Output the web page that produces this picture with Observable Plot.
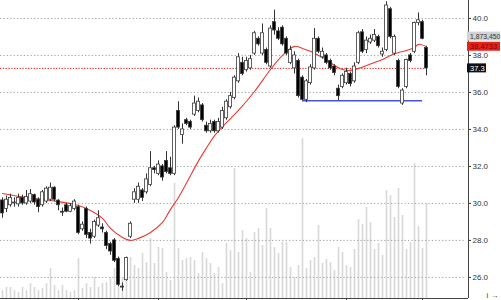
<!DOCTYPE html>
<html><head><meta charset="utf-8">
<script src="https://cdn.jsdelivr.net/npm/d3@7"></script>
<script src="https://cdn.jsdelivr.net/npm/@observablehq/plot@0.6"></script>
<style>
html,body{margin:0;padding:0;background:#fff;}
#chart{position:relative;width:501px;height:300px;overflow:hidden;}
#chart svg{position:absolute;left:0;top:0;}
</style></head><body><div id="chart"></div>
<script>
// ---- data ----
const opens  = [30.16,29.7,29.9,30.0,29.95,30.3,30.0,30.1,30.45,30.2,29.9,30.1,30.2,30.85,30.15,29.55,29.9,29.55,29.7,29.8,28.6,29.7,28.4,28.2,28.8,28.7,28.4,27.8,28.0,27.0,25.5,25.85,28.2,30.2,30.2,30.7,30.6,31.0,31.9,31.6,32.0,32.3,31.9,31.6,35.0,33.7,34.5,34.4,34.8,35.0,35.3,34.2,33.9,34.4,33.9,34.1,34.6,35.2,35.7,36.6,37.6,37.2,37.3,38.1,38.9,38.1,38.3,37.4,39.8,39.3,39.5,38.9,37.6,37.3,37.7,36.8,35.6,36.5,37.3,38.9,37.9,38.0,37.7,37.4,36.2,36.3,36.5,37.0,36.6,37.6,39.25,38.3,38.7,38.8,39.0,38.05,38.3,40.5,38.1,37.7,35.4,36.3,38.0,38.2,39.75,39.8,38.4];
const highs  = [30.3,30.4,30.5,30.3,30.5,30.45,30.7,30.75,30.5,30.3,30.7,30.9,31.1,30.9,30.2,29.75,30.0,30.0,30.2,29.9,29.0,29.8,28.6,29.1,29.6,28.9,28.5,27.9,28.1,27.1,25.7,27.1,29.0,30.8,31.1,30.8,31.6,32.8,32.0,32.3,32.1,32.8,32.5,34.2,35.5,34.3,34.6,34.5,35.8,35.7,35.4,34.4,34.5,34.5,34.6,35.2,35.6,36.0,36.9,38.1,37.9,37.9,38.0,39.3,39.0,39.7,38.4,39.6,40.45,39.5,39.6,39.0,38.5,38.2,37.8,36.9,36.7,37.5,39.45,39.0,38.4,38.1,37.8,37.5,36.4,37.0,37.3,37.1,37.6,39.3,39.4,39.0,39.1,39.4,39.1,38.4,40.9,40.6,39.1,37.8,36.2,37.8,38.1,39.8,40.3,39.9,38.5];
const lows   = [29.2,29.5,29.8,29.8,29.8,29.9,29.9,30.0,29.9,29.5,29.8,30.0,30.1,30.1,29.6,29.3,29.5,29.5,29.6,28.3,28.5,28.1,27.8,28.1,28.7,28.4,27.5,27.2,26.8,25.5,25.25,25.8,28.1,30.0,30.0,30.1,30.5,30.9,31.6,31.5,31.2,31.6,31.5,31.5,34.0,33.2,34.2,34.0,34.7,34.9,34.4,33.8,33.8,33.8,33.8,34.0,34.5,35.1,35.6,36.5,36.9,37.1,37.2,38.0,38.5,38.0,37.5,37.3,39.1,38.8,38.5,38.0,37.5,37.0,35.7,35.55,35.45,36.4,37.2,38.1,37.8,37.5,37.2,36.9,35.55,36.2,36.4,36.3,36.5,37.5,38.1,38.1,38.6,38.7,38.4,37.9,38.2,38.9,38.0,36.2,35.3,36.2,37.6,38.1,39.6,38.85,36.9];
const closes = [29.46,30.2,30.3,30.05,30.3,30.0,30.35,30.5,30.05,29.8,30.6,30.8,30.85,30.2,29.9,29.5,29.55,29.85,30.1,28.4,28.85,28.3,28.1,29.0,29.2,28.6,27.7,27.4,26.9,25.6,25.45,27.05,28.9,30.6,30.9,30.3,31.3,31.9,31.8,32.1,31.4,31.7,31.6,34.1,34.1,34.0,34.3,34.1,35.4,35.5,34.5,33.9,34.3,33.9,34.4,35.0,35.5,35.8,36.8,37.9,37.0,37.7,37.8,39.2,38.6,39.2,37.6,39.45,39.35,38.9,38.6,38.1,38.3,38.0,35.8,35.6,36.6,37.35,38.9,38.2,38.2,37.6,37.3,37.05,35.8,36.9,37.1,36.45,37.4,39.2,38.2,38.8,38.9,39.1,38.5,38.2,40.7,39.0,39.0,36.3,36.1,37.75,37.7,39.75,39.9,38.9,37.3];
// volume, thousands of shares
const volumes = [158,217,217,158,118,217,158,296,217,158,197,296,592,256,158,256,158,118,158,789,197,296,217,414,217,296,316,414,592,296,394,552,809,651,592,887,710,1183,690,1006,986,513,355,2268,986,749,789,809,749,493,907,789,690,493,611,296,1085,947,2564,907,1341,1183,513,1302,1380,1045,1775,1380,1006,887,1104,1104,611,414,651,3155,592,749,809,1440,690,769,710,552,1006,907,651,611,966,1558,1459,1795,1499,966,1085,848,2130,2031,1597,2169,1637,966,1104,2662,1420,986,1873];
// moving average, read at these bar positions
const maIndex  = [0,6,12,19,22,25,27,30,32,34,37,40,42,44,46,49,51,53,57,59,63,67,70,73,75,77,79,81,83,85,87,89,91,93,95,97,99,101,103,104,106];
const maValues = [30.54,30.32,30.16,29.89,29.62,29.19,28.65,28.16,28.0,28.11,28.43,28.97,29.68,30.32,31.1,32.3,33.0,33.65,34.59,35.03,36.05,37.24,38.0,38.49,38.38,38.22,38.0,37.78,37.46,37.24,37.19,37.30,37.46,37.62,37.78,38.0,38.16,38.27,38.43,38.6,38.47];
const priceTicks = [26,28,30,32,34,36,38,40];
const monthTicks = [19,39,61,86,105];
const supportLevel = 35.55, supportFrom = 75, supportTo = 105;
const volumeLabel = "1,873,450";
const maLabel = "38.4733";
const closeLabel = "37.3";

// ---- chart ----
const N = closes.length;
const candles = closes.map((c,i)=>({i, o:opens[i], h:highs[i], l:lows[i], c}));
const ma = maIndex.map((i,k)=>({i, v:maValues[k]}));
const vols = volumes.map((v,i)=>({i, v}));
const xDomain = [-0.5, 116.5];
const yDomain = [24.86, 40.97];
const common = {width:501, height:300, marginLeft:0, marginRight:33, marginTop:0, marginBottom:2};
const lastClose = closes[N-1];
const lastMA = maValues[maValues.length-1];
const font = "'Liberation Sans', Arial, sans-serif";

const volPlot = Plot.plot({...common,
  style:{background:"#fff"},
  x:{domain:xDomain, axis:null},
  y:{domain:[0,5876], axis:null},
  marks:[Plot.ruleX(vols, {x:"i", y1:0, y2:"v", stroke:"#d8d8d8", strokeWidth:1.6})]
});

const pricePlot = Plot.plot({...common,
  style:{background:"transparent", fontFamily:font, fontSize:"8px"},
  x:{domain:xDomain, axis:null},
  y:{domain:yDomain, axis:null},
  marks:[
    Plot.ruleY(priceTicks, {x1:xDomain[0], x2:115.5, stroke:"#a4a4a4", strokeDasharray:"1.3,2.1", strokeWidth:1}),
    Plot.ruleY([lastClose], {x1:-0.5, x2:N-1, stroke:"#e01818", strokeDasharray:"1.3,1.5", strokeWidth:1}),
    Plot.ruleY([supportLevel], {x1:supportFrom, x2:supportTo, stroke:"#4455d8", strokeWidth:1.3}),
    Plot.line(ma, {x:"i", y:"v", stroke:"#ea3a32", strokeWidth:1.1, curve:"catmull-rom"}),
    Plot.ruleX(candles, {x:"i", y1:"l", y2:"h", stroke:"#333", strokeWidth:1}),
    Plot.rect(candles, {x1:d=>d.i-0.38, x2:d=>d.i+0.38, y1:d=>Math.min(d.o,d.c), y2:d=>Math.max(d.o,d.c),
      fill:d=>d.c>=d.o?"#fff":"#000", stroke:"#3a3a3a", strokeWidth:0.8}),
    Plot.ruleX([xDomain[1]], {stroke:"#444", strokeWidth:1}),
    Plot.ruleY([yDomain[0]], {stroke:"#444", strokeWidth:1}),
    Plot.axisY(priceTicks, {anchor:"right", tickFormat:d=>d.toFixed(1), tickSize:2, tickPadding:2, color:"#333", fontSize:8}),
    Plot.axisX(monthTicks, {anchor:"bottom", tickSize:2, tickFormat:()=>"", color:"#444"})
  ]
});

// value boxes in the right margin
const labels = [
  {t: volumeLabel, v: lastMA + 0.55},
  {t: maLabel, v: lastMA},
  {t: closeLabel, v: lastClose}
];
const boxWidth = [32, 32, 18];
const boxFill = ["#d2d2d2", "#e4221c", "#111"];
const textFill = ["#333", "#8a0000", "#fff"];
const textSize = [6.8, 7.5, 7.5];

const labelPlot = Plot.plot({...common,
  style:{background:"transparent", fontFamily:font},
  x:{domain:xDomain, axis:null},
  y:{domain:yDomain, axis:null},
  marks:[
    ...labels.map((d,k) => Plot.rect([d], {x1:xDomain[1], x2:xDomain[1], y1:"v", y2:"v",
      insetLeft:-1, insetRight:-boxWidth[k], insetTop:-4.5, insetBottom:-4.5, fill:boxFill[k]})),
    ...labels.map((d,k) => Plot.text([d], {x:xDomain[1], y:"v", text:"t", dx:1.5, textAnchor:"start",
      fill:textFill[k], fontSize:textSize[k]}))
  ]
});

const el = document.getElementById("chart");
el.append(volPlot, pricePlot, labelPlot);
</script></body></html>
